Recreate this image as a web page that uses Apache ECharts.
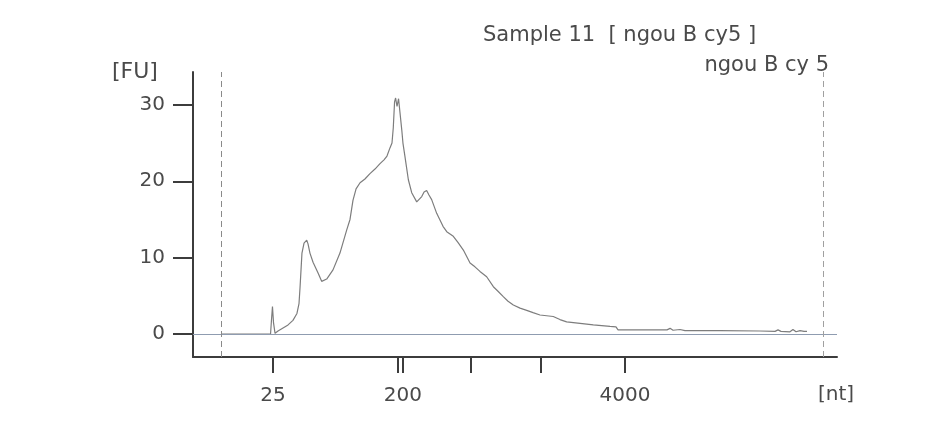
<!DOCTYPE html>
<html>
<head>
<meta charset="utf-8">
<script src="https://cdn.jsdelivr.net/npm/echarts@6/dist/echarts.min.js"></script>
<style>
  html, body { margin: 0; padding: 0; background: #ffffff; }
  #chart { width: 930px; height: 428px; }
</style>
</head>
<body>
<div id="chart"></div>
<script>
// Electropherogram: fluorescence [FU] against migration time [s],
// with the ladder sizes [nt] marked on the time axis.

const sampleTitle = 'Sample 11  [ ngou B cy5 ]';
const sampleName = 'ngou B cy 5';

// Migration time (s) of each ladder tick and its size label
const ladderTime = [26.21, 35.92, 36.30, 41.58, 47.02, 53.54];
const ladderLabel = ['25', '', '200', '', '', '4000'];

// Fluorescence axis ticks
const fuTicks = [0, 10, 20, 30];

// Lower / upper marker positions (s)
const markerTime = [22.17, 68.91];

// Trace: migration time (s) and fluorescence (FU)
const traceTime = [
  22.17, 26.02, 26.10, 26.17, 26.25, 26.37, 26.60, 26.99, 27.38, 27.76,
  28.07, 28.23, 28.31, 28.39, 28.46, 28.62, 28.83, 28.93, 29.08, 29.32,
  29.71, 29.99, 30.38, 30.87, 31.41, 31.93, 32.19, 32.42, 32.66, 32.97,
  33.35, 33.74, 34.13, 34.52, 34.83, 35.06, 35.30, 35.45, 35.55, 35.65,
  35.73, 35.84, 35.96, 36.07, 36.21, 36.30, 36.46, 36.72, 36.98, 37.37,
  37.76, 37.94, 38.14, 38.32, 38.53, 38.92, 39.41, 39.70, 40.21, 40.57,
  40.99, 41.51, 41.89, 42.28, 42.80, 43.32, 43.68, 44.09, 44.46, 44.87,
  45.39, 45.91, 46.40, 46.94, 47.97, 48.49, 49.01, 50.05, 51.08, 52.38,
  52.84, 53.00, 54.71, 56.80, 57.04, 57.27, 57.81, 58.20, 60.92, 64.02,
  65.19, 65.42, 65.65, 66.35, 66.58, 66.82, 67.13, 67.44, 67.67
];
const traceFU = [
  0.0, 0.0, 2.0, 3.6, 1.5, 0.1, 0.4, 0.8, 1.2, 1.8,
  2.7, 4.0, 6.1, 8.5, 10.6, 11.9, 12.3, 11.8, 10.6, 9.4,
  8.0, 6.9, 7.2, 8.4, 10.6, 13.6, 15.0, 17.5, 19.0, 19.8,
  20.3, 21.0, 21.6, 22.3, 22.8, 23.3, 24.4, 25.0, 27.0, 30.4,
  30.9, 29.8, 30.8, 29.0, 26.7, 25.0, 23.2, 20.2, 18.5, 17.3,
  18.0, 18.6, 18.8, 18.2, 17.6, 15.8, 14.1, 13.4, 12.8, 12.0,
  11.0, 9.3, 8.8, 8.2, 7.5, 6.2, 5.6, 4.9, 4.3, 3.8,
  3.4, 3.1, 2.8, 2.5, 2.3, 1.9, 1.6, 1.4, 1.2, 1.0,
  0.95, 0.55, 0.55, 0.55, 0.75, 0.5, 0.6, 0.45, 0.45, 0.4,
  0.35, 0.55, 0.35, 0.3, 0.6, 0.3, 0.45, 0.35, 0.35
];

const FONT = 'Tahoma, Verdana, "DejaVu Sans", sans-serif';
const TEXT = '#4a4a4a';
const AXIS = '#3c3c3c';

const chart = echarts.init(document.getElementById('chart'), null, { renderer: 'canvas' });

const labelled = ladderTime.filter((t, i) => ladderLabel[i] !== '');

chart.setOption({
  backgroundColor: '#ffffff',
  animation: false,
  title: [
    {
      text: sampleTitle,
      left: 478, top: 20,
      textStyle: { fontFamily: FONT, fontSize: 21, fontWeight: 'normal', color: TEXT }
    },
    {
      text: sampleName,
      right: 96, top: 50,
      textStyle: { fontFamily: FONT, fontSize: 21, fontWeight: 'normal', color: TEXT }
    }
  ],
  grid: { left: 193, right: 93, top: 72, bottom: 71, containLabel: false },
  xAxis: {
    type: 'value',
    min: 20, max: 70,
    splitLine: { show: false },
    axisLine: { show: true, onZero: false, lineStyle: { color: AXIS, width: 2 } },
    axisTick: {
      show: true, inside: false, length: 16,
      customValues: ladderTime,
      lineStyle: { color: AXIS, width: 2 }
    },
    axisLabel: {
      customValues: labelled,
      margin: 29,
      fontFamily: FONT, fontSize: 20, color: TEXT,
      formatter: v => {
        const i = ladderTime.findIndex(t => Math.abs(t - v) < 1e-6);
        return i >= 0 ? ladderLabel[i] : '';
      }
    }
  },
  yAxis: {
    type: 'value',
    min: -3, max: 34.3,
    splitLine: { show: false },
    axisLine: { show: true, onZero: false, lineStyle: { color: AXIS, width: 2 } },
    axisTick: {
      show: true, length: 20,
      customValues: fuTicks,
      lineStyle: { color: AXIS, width: 2 }
    },
    axisLabel: {
      customValues: fuTicks,
      margin: 28,
      fontFamily: FONT, fontSize: 20, color: TEXT
    }
  },
  graphic: [
    {
      type: 'text', left: 112, top: 61,
      style: { text: '[FU]', font: '22px ' + FONT, fill: TEXT }
    },
    {
      type: 'text', left: 818, top: 385,
      style: { text: '[nt]', font: '20px ' + FONT, fill: TEXT }
    }
  ],
  series: [
    {
      type: 'line',
      data: traceTime.map((t, i) => [t, traceFU[i]]),
      showSymbol: false,
      symbol: 'none',
      smooth: false,
      lineStyle: { color: '#7d7d7d', width: 1.2 },
      z: 3,
      markLine: {
        silent: true,
        symbol: 'none',
        label: { show: false },
        animation: false,
        data: [
          { yAxis: 0, lineStyle: { color: '#8f9cb0', width: 1.2, type: 'solid' } },
          { xAxis: markerTime[0], lineStyle: { color: '#8a8a8a', width: 1, type: [6, 4] } },
          { xAxis: markerTime[1], lineStyle: { color: '#a0a0a0', width: 1, type: [6, 4] } }
        ]
      }
    }
  ]
});
</script>
</body>
</html>
